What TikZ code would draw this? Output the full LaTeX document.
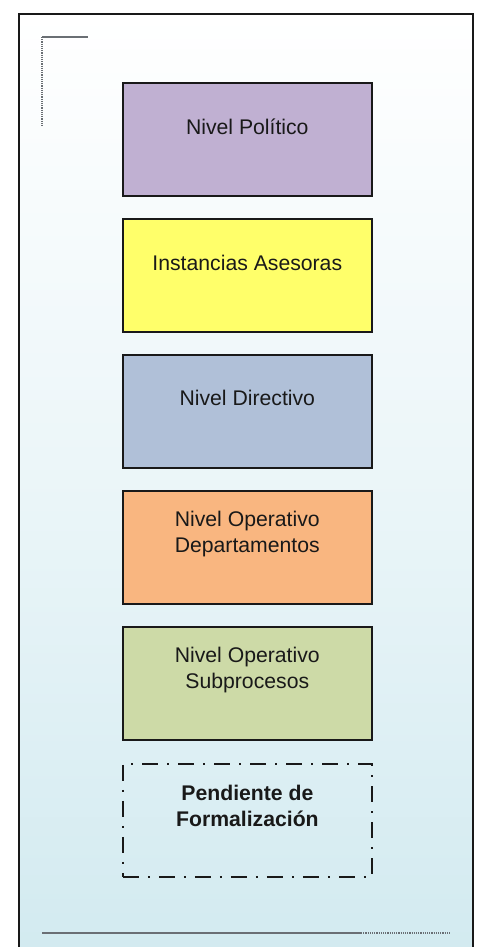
\documentclass[tikz,border=0pt]{standalone}
\usepackage{fontspec}
\setmainfont{Liberation Sans}
\definecolor{bgbot}{HTML}{D2EAF0}
\definecolor{cpol}{HTML}{C0B0D2}
\definecolor{cases}{HTML}{FFFF6A}
\definecolor{cdir}{HTML}{B0C0D8}
\definecolor{cope}{HTML}{F9B680}
\definecolor{csub}{HTML}{CDDAA7}
\definecolor{markgray}{HTML}{6A6F74}
\begin{document}
\begin{tikzpicture}[x=1pt,y=-1pt,
  levelbox/.style={draw=black!90, line width=1.6pt, minimum width=249pt, minimum height=113pt, inner sep=0pt, anchor=north west},
  leveltext/.style={font=\fontsize{21.2}{26}\selectfont, text=black!90, align=center, anchor=center},
  pendbox/.style={levelbox, line width=1.8pt, dash pattern=on 16pt off 9pt on 2pt off 9pt},
  marksolid/.style={draw=markgray, line width=1.4pt},
  markdot/.style={draw=markgray, line width=1.4pt, dash pattern=on 1.2pt off 1pt}]
\useasboundingbox (0,0) rectangle (478,947);
\begin{scope}
\clip (0,0) rectangle (478,947);
\shade[top color=white, bottom color=bgbot, middle color=bgbot!45] (19,14) rectangle (473,960);
\draw[black!90, line width=1.8pt] (19,960) -- (19,14) -- (473,14) -- (473,960);
\end{scope}
% corner mark
\coordinate (cm) at (42,37);
\coordinate (cmr) at (88,37);
\coordinate (cmb) at (42,127);
\draw[marksolid] (cm) -- (cmr);
\draw[markdot] (cm) -- (cmb);
% bottom line
\coordinate (bl) at (42,933);
\coordinate (bm) at (361,933);
\coordinate (br) at (451,933);
\draw[marksolid] (bl) -- (bm);
\draw[markdot] (bm) -- (br);
% boxes
\node[levelbox, fill=cpol] (b1) at (122,82) {};
\node[levelbox, fill=cases] (b2) at (122,218) {};
\node[levelbox, fill=cdir] (b3) at (122,354) {};
\node[levelbox, fill=cope] (b4) at (122,490) {};
\node[levelbox, fill=csub] (b5) at (122,626) {};
\node[pendbox] (b6) at (122,763) {};
\node[leveltext] (t1) at ([yshift=-45pt]b1.north) {Nivel Político};
\node[leveltext] (t2) at ([yshift=-45pt]b2.north) {Instancias Asesoras};
\node[leveltext] (t3) at ([yshift=-44pt]b3.north) {Nivel Directivo};
\node[leveltext] (t4) at ([yshift=-44pt]b4.north) {Nivel Operativo\\Departamentos};
\node[leveltext] (t5) at ([yshift=-44pt]b5.north) {Nivel Operativo\\Subprocesos};
\node[leveltext, font=\fontsize{21.2}{26}\selectfont\bfseries] (t6) at ([yshift=-43pt]b6.north) {Pendiente de\\Formalización};
\end{tikzpicture}
\end{document}
